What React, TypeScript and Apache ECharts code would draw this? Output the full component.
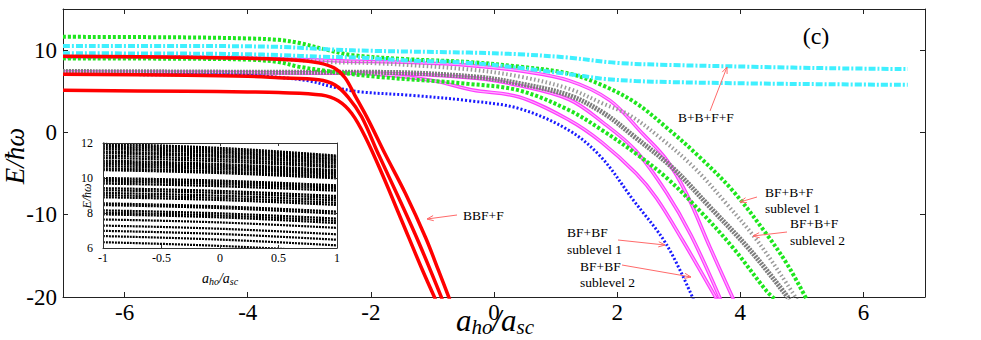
import React, { useEffect, useRef } from "react";
import * as echarts from "echarts";

type P = [number, number];

// ---------- tick labels ----------
const xTickValues = [-6, -4, -2, 0, 2, 4, 6];
const yTickValues = [-20, -10, 0, 10];
const insetXTicks = [-1, -0.5, 0, 0.5, 1];
const insetYTicks = [6, 8, 10, 12];

// ---------- main panel curves ([a_ho/a_sc, E/ħω]) ----------
const redOuter: P[] = [[-7, 9.27], [-5, 9.13], [-4, 9.0], [-3.2, 8.78], [-2.85, 8.45], [-2.6, 7.85], [-2.42, 6.65], [-2.26, 4.5], [-2.04, 1.5], [-1.77, -2.6], [-1.44, -7.4], [-1.11, -12.8], [-0.9, -16.8], [-0.72, -20.3]];
const redMid: P[] = [[-7, 7.07], [-5, 6.95], [-4, 6.82], [-3.5, 6.65], [-2.85, 6.4], [-2.58, 5.75], [-2.37, 4.3], [-2.15, 1.9], [-1.88, -2.6], [-1.55, -7.9], [-1.22, -13.4], [-0.84, -20.3]];
const redInner: P[] = [[-7, 5.12], [-5, 5.0], [-4, 4.92], [-3.5, 4.85], [-2.8, 4.55], [-2.53, 3.85], [-2.31, 2.3], [-2.09, -0.55], [-1.82, -5.0], [-1.5, -10.7], [-1.17, -16.6], [-0.95, -20.3]];

const greenUpper: P[] = [[-7, 11.62], [-5, 11.55], [-4, 11.42], [-3.5, 11.25], [-3.18, 10.9], [-2.69, 10.0], [-2.31, 9.4], [-1.4, 8.9], [-0.4, 8.55], [0.41, 8.0], [1.22, 7.15], [1.77, 5.7], [2.3, 3.6], [2.8, 0.6], [3.34, -3.0], [3.88, -7.1], [4.43, -12.4], [4.76, -16.0], [5.08, -20.3]];
const greenLower: P[] = [[-7, 9.0], [-5, 8.95], [-4, 8.85], [-3.5, 8.55], [-3.18, 8.0], [-2.69, 7.45], [-1.88, 6.75], [-0.41, 5.9], [0.41, 5.1], [1.22, 2.7], [1.77, 0.2], [2.31, -2.6], [2.8, -5.5], [3.34, -9.5], [3.88, -14.0], [4.43, -19.3], [4.57, -20.3]];

const cyanUpper: P[] = [[-7, 10.5], [-5, 10.5], [-3.5, 10.4], [-2.7, 10.1], [-1.9, 9.9], [-0.4, 9.7], [0.4, 9.5], [1.2, 9.1], [2.0, 8.45], [2.85, 8.2], [4.2, 7.98], [5.5, 7.8], [6.72, 7.7]];
const cyanLower: P[] = [[-7, 9.62], [-5, 9.58], [-4, 9.5], [-3.5, 9.4], [-2.8, 9.2], [-2.2, 9.1], [-1.4, 8.75], [-0.4, 8.45], [0.41, 7.85], [1.0, 7.3], [1.45, 6.85], [1.8, 6.5], [2.3, 6.25], [2.85, 6.12], [4.2, 5.95], [5.5, 5.85], [6.72, 5.78]];

const blueLevel: P[] = [[-7, 7.05], [-5, 7.0], [-4, 6.92], [-3.5, 6.7], [-3.0, 6.25], [-2.6, 5.5], [-2.2, 4.95], [-1.33, 4.5], [-0.4, 3.85], [0.41, 2.9], [1.22, 0.24], [1.74, -3.0], [2.25, -8.1], [2.8, -13.6], [3.24, -20.3]];

const grayUpper: P[] = [[-7, 9.2], [-5, 9.15], [-4, 9.05], [-3.3, 8.85], [-2.7, 8.55], [-1.9, 8.4], [-0.4, 7.65], [0.41, 6.8], [1.22, 5.3], [1.77, 3.5], [2.2, 2.1], [2.69, -0.6], [3.24, -4.2], [3.78, -8.7], [4.32, -13.6], [4.92, -20.3]];
const grayLower: P[] = [[-7, 7.4], [-5, 7.35], [-3.5, 7.3], [-1.9, 7.3], [-0.3, 6.75], [0.41, 5.94], [1.22, 4.5], [1.77, 2.4], [2.26, -0.4], [2.9, -4.3], [3.51, -9.1], [4.16, -14.3], [4.8, -20.3]];

const magentaUpper: P[] = [[-7, 9.2], [-5, 9.15], [-3.5, 8.95], [-2.5, 8.7], [-1.33, 8.5], [-0.4, 8.15], [0.41, 7.5], [1.22, 6.3], [1.88, 3.9], [2.42, -0.2], [2.8, -3.3], [3.13, -7.5], [3.51, -14.0], [3.89, -20.3]];
const magentaMid: P[] = [[-7, 7.3], [-5, 7.28], [-3.5, 7.25], [-1.9, 7.2], [-0.3, 6.6], [0.41, 5.7], [1.22, 4.0], [1.77, 1.2], [2.3, -2.2], [2.8, -7.3], [3.2, -12.5], [3.68, -20.3]];
const magentaLower: P[] = [[-7, 7.35], [-5, 7.3], [-3.5, 7.25], [-2.5, 7.2], [-1.88, 7.05], [-1.0, 6.3], [-0.35, 5.15], [0.41, 4.3], [1.22, 1.5], [1.75, -1.2], [2.31, -5.0], [2.64, -8.0], [3.07, -13.2], [3.62, -20.3]];

// ---------- inset levels: value at a_ho/a_sc = -1, 0, 1 ----------
const insetX = [-1, 0, 1];
const insetLeft = [11.95, 11.85, 11.75, 11.65, 11.52, 11.42, 11.28, 11.15, 11.0, 10.9, 10.8, 10.68, 10.55, 10.45, 10.0, 9.9, 9.8, 9.68, 9.42, 9.3, 9.15, 9.02, 8.9, 8.55, 8.45, 8.15, 8.02, 7.92, 7.63, 7.28, 6.98, 6.68, 6.33];
const insetMid = [11.72, 11.62, 11.52, 11.42, 11.3, 11.2, 11.07, 10.95, 10.8, 10.7, 10.6, 10.5, 10.38, 10.28, 9.85, 9.75, 9.65, 9.53, 9.26, 9.14, 8.99, 8.86, 8.74, 8.38, 8.28, 7.98, 7.86, 7.75, 7.46, 7.1, 6.8, 6.48, 6.12];
const insetRight = [11.28, 11.2, 11.1, 11.02, 10.92, 10.82, 10.7, 10.6, 10.45, 10.36, 10.27, 10.18, 10.08, 9.98, 9.58, 9.48, 9.38, 9.27, 8.97, 8.85, 8.72, 8.58, 8.46, 8.08, 7.96, 7.68, 7.55, 7.42, 7.15, 6.78, 6.47, 6.15, 5.78];

const serif = "Liberation Serif, Times New Roman, Times, serif";

function arrow(x1: number, y1: number, x2: number, y2: number) {
  const ang = Math.atan2(y2 - y1, x2 - x1);
  const L = 7;
  const w = 0.38;
  const p1 = [x2 - L * Math.cos(ang - w), y2 - L * Math.sin(ang - w)];
  const p2 = [x2 - L * Math.cos(ang + w), y2 - L * Math.sin(ang + w)];
  const col = "#ff6a6a";
  return [
    { type: "line", z: 100, shape: { x1, y1, x2, y2 }, style: { stroke: col, lineWidth: 1 } },
    { type: "polyline", z: 100, shape: { points: [p1, [x2, y2], p2] }, style: { stroke: col, lineWidth: 1, fill: null } },
  ];
}

function label(x: number, y: number, text: string, size: number, extra: any = {}) {
  return {
    type: "text",
    z: 100,
    x,
    y,
    style: { text, fontFamily: serif, fontSize: size, fill: "#000", align: "left", verticalAlign: "middle", ...extra },
  };
}

function mainLine(data: P[], color: string, width: number, type: any, z = 2) {
  return {
    type: "line",
    xAxisIndex: 0,
    yAxisIndex: 0,
    data,
    showSymbol: false,
    symbol: "none",
    smooth: 0.35,
    z,
    silent: true,
    lineStyle: { color, width, type, cap: "butt" },
  };
}

export default function App() {
  const ref = useRef<HTMLDivElement>(null);
  useEffect(() => {
    if (!ref.current) return;
    const chart = echarts.init(ref.current, undefined, { renderer: "svg" });
    const axisCol = "#222";
    const tickStyle = { color: axisCol, width: 1 };

    const insetSeries = insetLeft.map((l, i) => ({
      type: "line",
      xAxisIndex: 2,
      yAxisIndex: 2,
      data: [
        [insetX[0], l],
        [insetX[1], insetMid[i]],
        [insetX[2], insetRight[i]],
      ],
      showSymbol: false,
      symbol: "none",
      smooth: 0.4,
      silent: true,
      z: 5,
      lineStyle: { color: "#000", width: 2.2, type: [2, 1] },
    }));

    const magentas = [magentaUpper, magentaMid, magentaLower];

    const option: any = {
      animation: false,
      backgroundColor: "#fff",
      textStyle: { fontFamily: serif },
      grid: [
        { left: 63, top: 9, width: 862, height: 288, show: false },
        { left: 103, top: 143, width: 234, height: 105, show: true, backgroundColor: "#fff", borderWidth: 0, z: 3 },
      ],
      xAxis: [
        {
          type: "value", gridIndex: 0, min: -7, max: 7, position: "bottom",
          axisLine: { onZero: false, lineStyle: { color: axisCol, width: 1 } },
          axisTick: { inside: true, length: 5, customValues: xTickValues, lineStyle: tickStyle },
          axisLabel: { customValues: xTickValues, fontFamily: serif, fontSize: 23, color: "#000", margin: 4 },
          splitLine: { show: false },
        },
        {
          type: "value", gridIndex: 0, min: -7, max: 7, position: "top",
          axisLine: { onZero: false, lineStyle: { color: axisCol, width: 1 } },
          axisTick: { inside: true, length: 5, customValues: xTickValues, lineStyle: tickStyle },
          axisLabel: { show: false },
          splitLine: { show: false },
        },
        {
          type: "value", gridIndex: 1, min: -1, max: 1, interval: 0.5, position: "bottom",
          axisLine: { onZero: false, lineStyle: { color: "#333", width: 1 } },
          axisTick: { inside: true, length: 3, customValues: insetXTicks, lineStyle: { color: "#333" } },
          axisLabel: { customValues: insetXTicks, fontFamily: serif, fontSize: 12, color: "#000", margin: 4 },
          splitLine: { show: false },
          z: 6,
        },
        {
          type: "value", gridIndex: 1, min: -1, max: 1, interval: 0.5, position: "top",
          axisLine: { onZero: false, lineStyle: { color: "#333", width: 1 } },
          axisTick: { inside: true, length: 3, customValues: insetXTicks, lineStyle: { color: "#333" } },
          axisLabel: { show: false },
          splitLine: { show: false },
          z: 6,
        },
      ],
      yAxis: [
        {
          type: "value", gridIndex: 0, min: -20, max: 15, position: "left",
          axisLine: { onZero: false, lineStyle: { color: axisCol, width: 1 } },
          axisTick: { inside: true, length: 5, customValues: yTickValues, lineStyle: tickStyle },
          axisLabel: { customValues: yTickValues, fontFamily: serif, fontSize: 23, color: "#000", margin: 6 },
          splitLine: { show: false },
        },
        {
          type: "value", gridIndex: 0, min: -20, max: 15, position: "right",
          axisLine: { onZero: false, lineStyle: { color: axisCol, width: 1 } },
          axisTick: { inside: true, length: 5, customValues: yTickValues, lineStyle: tickStyle },
          axisLabel: { show: false },
          splitLine: { show: false },
        },
        {
          type: "value", gridIndex: 1, min: 6, max: 12, interval: 2, position: "left",
          axisLine: { onZero: false, lineStyle: { color: "#333", width: 1 } },
          axisTick: { inside: true, length: 3, customValues: insetYTicks, lineStyle: { color: "#333" } },
          axisLabel: { customValues: insetYTicks, fontFamily: serif, fontSize: 12, color: "#000", margin: 10 },
          splitLine: { show: false },
          z: 6,
        },
        {
          type: "value", gridIndex: 1, min: 6, max: 12, interval: 2, position: "right",
          axisLine: { onZero: false, lineStyle: { color: "#333", width: 1 } },
          axisTick: { inside: true, length: 3, customValues: insetYTicks, lineStyle: { color: "#333" } },
          axisLabel: { show: false },
          splitLine: { show: false },
          z: 6,
        },
      ],
      series: [
        ...magentas.map((m) => mainLine(m, "#ff3dff", 3.6, "solid", 2)),
        ...magentas.map((m) => mainLine(m, "#ffb0ff", 1.2, "solid", 2)),
        mainLine(grayUpper, "#9a9a9a", 4, [1.5, 2.5], 2),
        mainLine(grayLower, "#7d7d7d", 5, [2, 1], 2),
        mainLine(blueLevel, "#1a1aff", 3, [2, 2], 3),
        mainLine(greenLower, "#1ee61e", 4, [3, 2], 4),
        mainLine(greenUpper, "#1ee61e", 4, [3, 2], 4),
        mainLine(cyanLower, "#3ff0ff", 4, [7, 2, 2, 2], 4),
        mainLine(cyanUpper, "#3ff0ff", 4, [7, 2, 2, 2], 4),
        mainLine(redInner, "#ff0000", 3.5, "solid", 5),
        mainLine(redMid, "#ff0000", 3.5, "solid", 5),
        mainLine(redOuter, "#ff0000", 3.5, "solid", 5),
        ...insetSeries,
      ],
      graphic: [
        {
          type: "text", z: 100, x: 15, y: 156, rotation: Math.PI / 2,
          style: { text: "E/ħω", fontFamily: serif, fontSize: 27, fontStyle: "italic", fill: "#000", align: "center", verticalAlign: "middle" },
        },
        {
          type: "text", z: 100, x: 495, y: 320,
          style: {
            text: "{a|a}{s|ho}{a|/a}{s|sc}",
            align: "center", verticalAlign: "middle",
            rich: {
              a: { fontFamily: serif, fontSize: 31, fontStyle: "italic", fill: "#000", lineHeight: 34 },
              s: { fontFamily: serif, fontSize: 21, fontStyle: "italic", fill: "#000", lineHeight: 20, padding: [14, 0, 0, 0] },
            },
          },
        },
        {
          type: "text", z: 100, x: 87, y: 196, rotation: Math.PI / 2,
          style: { text: "E/ħω", fontFamily: serif, fontSize: 12, fontStyle: "italic", fill: "#000", align: "center", verticalAlign: "middle" },
        },
        {
          type: "text", z: 100, x: 220, y: 278,
          style: {
            text: "{a|a}{s|ho}{a|/a}{s|sc}",
            align: "center", verticalAlign: "middle",
            rich: {
              a: { fontFamily: serif, fontSize: 14, fontStyle: "italic", fill: "#000", lineHeight: 16 },
              s: { fontFamily: serif, fontSize: 10, fontStyle: "italic", fill: "#000", lineHeight: 10, padding: [6, 0, 0, 0] },
            },
          },
        },
        label(816, 36, "(c)", 24, { align: "center" }),
        label(678, 117, "B+B+F+F", 13.5),
        label(463, 215, "BBF+F", 13.5),
        label(567, 232, "BF+BF", 13.5),
        label(567, 249, "sublevel 1", 13.5),
        label(580, 266, "BF+BF", 13.5),
        label(580, 282, "sublevel 2", 13.5),
        label(765, 192, "BF+B+F", 13.5),
        label(765, 208, "sublevel 1", 13.5),
        label(790, 223, "BF+B+F", 13.5),
        label(790, 240, "sublevel 2", 13.5),
        ...arrow(710, 111, 727, 67),
        ...arrow(457, 215, 427, 219),
        ...arrow(618, 240, 665, 245),
        ...arrow(622, 265, 691, 277),
        ...arrow(757, 197, 740, 202),
        ...arrow(787, 232, 753, 236),
      ],
    };
    chart.setOption(option);
    return () => chart.dispose();
  }, []);
  return <div ref={ref} style={{ position: "fixed", left: 0, top: 0, width: 981, height: 340 }} />;
}
